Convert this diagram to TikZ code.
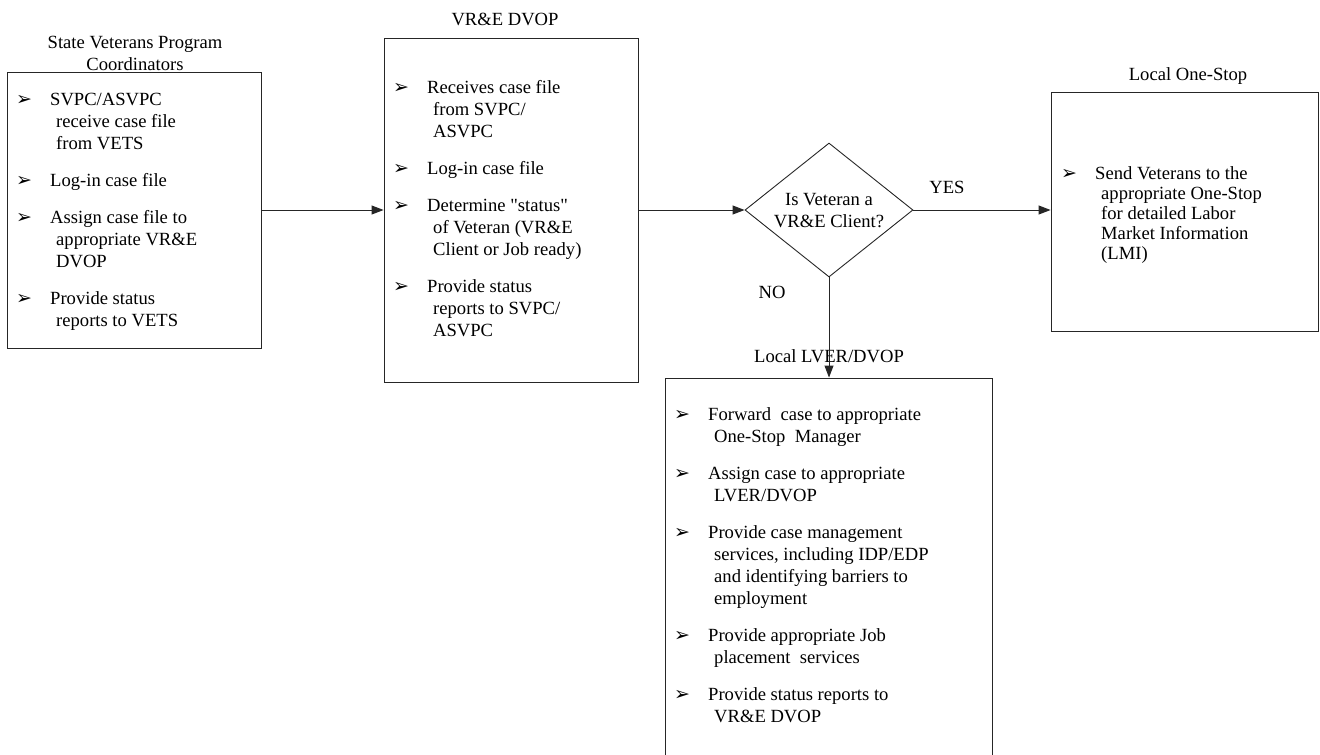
\documentclass[tikz,border=0pt]{standalone}
\usepackage{fontspec}
\setmainfont{Liberation Serif}[Ligatures=TeXOff]
\newfontfamily\dvs{DejaVu Sans}
\usetikzlibrary{shapes.geometric,arrows.meta}
\newcommand\bodyfont{\fontsize{18.6}{22}\selectfont}
\newcommand\onefont{\fontsize{18.6}{20}\selectfont}
\newcommand\bl{\llap{\makebox[34pt][l]{\raisebox{0pt}{\dvs\fontsize{19}{19}\selectfont ➢}}}}
\newcommand\ci{\hspace*{6pt}}
\renewcommand\arraystretch{1}
\tikzset{
  box/.style={draw=black!85, line width=0.9pt, rectangle, inner sep=0pt},
  dia/.style={draw=black!85, line width=0.9pt, diamond, inner sep=0pt, minimum width=168pt, minimum height=134pt},
  txt/.style={anchor=base west, inner sep=0pt, font=\bodyfont},
  ttl/.style={anchor=base, inner sep=0pt, font=\bodyfont},
  arr/.style={draw=black!85, line width=0.9pt, -{Triangle[length=12pt,width=9pt]}},
}
\begin{document}
\begin{tikzpicture}[x=1pt,y=-1pt]
\useasboundingbox (0,0) rectangle (1320,755);
% boxes
\node[box, minimum width=254pt, minimum height=276pt] (svpc) at (134,210) {};
\node[box, minimum width=254pt, minimum height=344pt] (vre) at (511,210) {};
\node[box, minimum width=267pt, minimum height=239pt] (one) at (1184.5,211.5) {};
\node[box, minimum width=327pt, minimum height=387pt] (lver) at (828.5,571.5) {};
\node[dia] (q) at (829,210) {};
% titles
\node[ttl] (t1) at (135,48) {\begin{tabular}[t]{@{}c@{}}State Veterans Program\\Coordinators\end{tabular}};
\node[ttl] (t2) at (505,25) {VR\&E DVOP};
\node[ttl] (t3) at (1188,80) {Local One-Stop};
\node[ttl] (t4) at (829,362) {Local LVER/DVOP};
\node[ttl] (qt) at (829,205) {\begin{tabular}[t]{@{}c@{}}Is Veteran a\\VR\&E Client?\end{tabular}};
\node[ttl] (yes) at (947,193) {YES};
\node[ttl] (no) at (772,298) {NO};
% box texts
\node[txt] (x1) at (50,105) {\begin{tabular}[t]{@{}l@{}}
\bl SVPC/ASVPC\\ \ci receive case file\\ \ci from VETS\\[15pt]
\bl Log-in case file\\[15pt]
\bl Assign case file to\\ \ci appropriate VR\&E\\ \ci DVOP\\[15pt]
\bl Provide status\\ \ci reports to VETS
\end{tabular}};
\node[txt] (x2) at (427,93) {\begin{tabular}[t]{@{}l@{}}
\bl Receives case file\\ \ci from SVPC/\\ \ci ASVPC\\[15pt]
\bl Log-in case file\\[15pt]
\bl Determine "status"\\ \ci of Veteran (VR\&E\\ \ci Client or Job ready)\\[15pt]
\bl Provide status\\ \ci reports to SVPC/\\ \ci ASVPC
\end{tabular}};
\node[txt, font=\onefont] (x3) at (1095,179) {\begin{tabular}[t]{@{}l@{}}
\bl Send Veterans to the\\ \ci appropriate One-Stop\\ \ci for detailed Labor\\ \ci Market Information\\ \ci (LMI)
\end{tabular}};
\node[txt] (x4) at (708,420) {\begin{tabular}[t]{@{}l@{}}
\bl Forward\ \ case to appropriate\\ \ci One-Stop\ \ Manager\\[15pt]
\bl Assign case to appropriate\\ \ci LVER/DVOP\\[15pt]
\bl Provide case management\\ \ci services, including IDP/EDP\\ \ci and identifying barriers to\\ \ci employment\\[15pt]
\bl Provide appropriate Job\\ \ci placement\ \ services\\[15pt]
\bl Provide status reports to\\ \ci VR\&E DVOP
\end{tabular}};
% connectors
\draw[arr] (svpc.east) -- (svpc.east -| vre.west);
\draw[arr] (vre.east) -- (q.west);
\draw[arr] (q.east) -- (q.east -| one.west);
\draw[arr] (q.south) -- (q.south |- lver.north);
\end{tikzpicture}
\end{document}
